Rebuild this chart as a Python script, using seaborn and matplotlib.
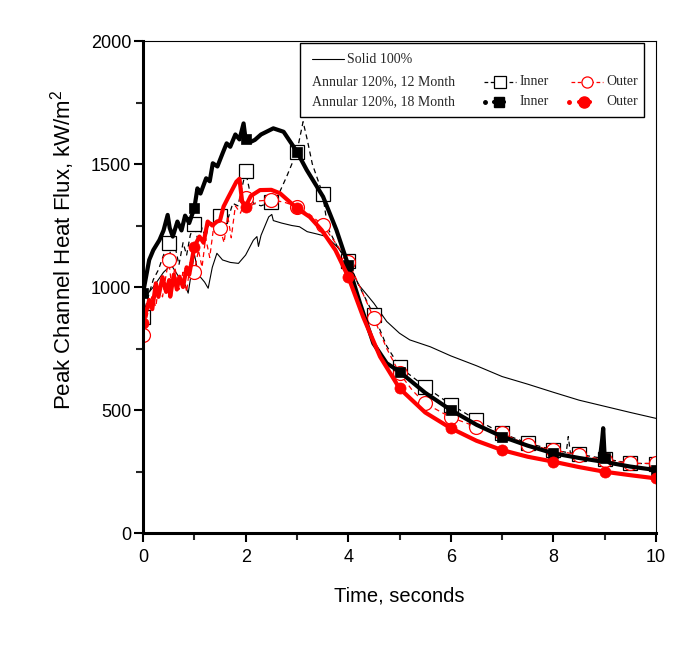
import numpy as np
import matplotlib
matplotlib.use("Agg")
import matplotlib.pyplot as plt
import seaborn as sns
from matplotlib.ticker import MultipleLocator
from matplotlib.patches import Rectangle

# Solid 100% (thin black line, no markers)
solid_t = [0, 0.2, 0.4, 0.55, 0.7, 0.8, 0.88, 1.0, 1.08, 1.2, 1.27, 1.35, 1.44, 1.55,
           1.7, 1.86, 2.0, 2.15, 2.22, 2.25, 2.3, 2.45, 2.51, 2.54, 2.7, 2.9, 3.05,
           3.2, 3.4, 3.58, 3.8, 4.0, 4.2, 4.5, 4.75, 5.0, 5.2, 5.6, 6.0, 6.5, 7.0,
           7.5, 8.0, 8.5, 9.0, 9.5, 10.0]
solid_v = [950, 1000, 1060, 1090, 1040, 1020, 975, 1135, 1050, 1020, 995, 1080, 1137, 1110,
           1100, 1096, 1130, 1190, 1205, 1165, 1210, 1285, 1295, 1270, 1260, 1250, 1245,
           1225, 1215, 1205, 1160, 1100, 1010, 934, 860, 812, 785, 757, 720, 680, 636,
           605, 572, 540, 515, 490, 466]

# Annular 120% 12 Month - Inner (thin black dashed, open squares every 0.5 s)
in12_t = [0, 0.1, 0.2, 0.3, 0.4, 0.5, 0.55, 0.62, 0.7, 0.78, 0.85, 0.92, 1.0, 1.08,
          1.15, 1.22, 1.3, 1.38, 1.5, 1.58, 1.66, 1.75, 1.85, 2.0, 2.08, 2.15, 2.3,
          2.5, 2.65, 2.8, 3.0, 3.12, 3.2, 3.3, 3.5, 3.6, 3.8, 4.0, 4.2, 4.5, 4.75,
          5.0, 5.5, 6.0, 6.5, 7.0, 7.5, 8.0, 8.25, 8.29, 8.33, 8.5, 9.0, 9.5, 10.0]
in12_v = [880, 960, 1030, 1070, 1130, 1180, 1110, 1170, 1090, 1180, 1130, 1210, 1255, 1180,
          1240, 1200, 1270, 1250, 1290, 1300, 1280, 1340, 1330, 1470, 1390, 1340, 1330,
          1345, 1380, 1449, 1550, 1672, 1600, 1500, 1380, 1240, 1160, 1105, 1010, 885, 760,
          675, 595, 522, 460, 405, 365, 338, 328, 392, 326, 320, 302, 283, 282]

# Annular 120% 12 Month - Outer (thin red dashed, open circles every 0.5 s)
out12_t = [0, 0.1, 0.17, 0.25, 0.3, 0.38, 0.45, 0.5, 0.56, 0.62, 0.7, 0.78, 0.85, 0.92,
           1.0, 1.08, 1.15, 1.22, 1.3, 1.38, 1.5, 1.58, 1.65, 1.72, 1.8, 1.9, 2.0, 2.1,
           2.25, 2.5, 2.75, 3.0, 3.25, 3.5, 3.75, 4.0, 4.25, 4.5, 4.75, 5.0, 5.25, 5.5,
           6.0, 6.5, 7.0, 7.5, 8.0, 8.5, 9.0, 9.5, 10.0]
out12_v = [805, 900, 960, 920, 1000, 960, 1050, 1110, 1000, 1080, 990, 1060, 980, 1100,
           1062, 1150, 1080, 1200, 1120, 1250, 1239, 1180, 1290, 1200, 1330, 1300, 1360, 1330,
           1350, 1354, 1345, 1327, 1295, 1252, 1180, 1103, 990, 873, 750, 649, 580, 527,
           470, 432, 405, 358, 337, 317, 297, 283, 283]

# Annular 120% 18 Month - Inner (thick black, filled squares every 1 s)
in18_t = [0, 0.12, 0.2, 0.32, 0.4, 0.48, 0.52, 0.58, 0.67, 0.75, 0.82, 0.9, 1.0, 1.06,
          1.12, 1.23, 1.3, 1.36, 1.45, 1.55, 1.63, 1.7, 1.8, 1.88, 1.96, 2.0, 2.1, 2.18,
          2.3, 2.54, 2.74, 3.0, 3.19, 3.51, 3.77, 4.0, 4.23, 4.49, 4.75, 5.0, 5.5, 6.0,
          6.5, 7.0, 7.5, 8.0, 8.5, 8.9, 8.95, 8.97, 9.0, 9.1, 9.5, 10.0]
in18_v = [975, 1110, 1150, 1191, 1230, 1293, 1240, 1205, 1266, 1230, 1290, 1260, 1320, 1401,
          1380, 1442, 1430, 1503, 1490, 1543, 1584, 1570, 1620, 1600, 1665, 1600, 1590, 1598,
          1620, 1645, 1631, 1550, 1476, 1367, 1232, 1089, 934, 771, 690, 656, 570, 500,
          440, 392, 355, 324, 305, 292, 380, 426, 305, 285, 270, 256]

# Annular 120% 18 Month - Outer (thick red, filled circles every 1 s)
out18_t = [0, 0.12, 0.18, 0.25, 0.3, 0.38, 0.45, 0.51, 0.53, 0.6, 0.66, 0.71, 0.78, 0.85,
           0.9, 1.0, 1.1, 1.18, 1.26, 1.35, 1.44, 1.5, 1.57, 1.65, 1.75, 1.82, 1.88, 1.93,
           2.0, 2.1, 2.28, 2.5, 2.67, 3.0, 3.25, 3.48, 3.75, 4.0, 4.29, 4.62, 5.0, 5.5,
           6.0, 6.5, 7.0, 7.5, 8.0, 8.5, 9.0, 9.5, 10.0]
out18_v = [852, 947, 910, 1015, 960, 1040, 980, 1028, 961, 1050, 990, 1042, 1000, 1080,
           1050, 1164, 1205, 1180, 1266, 1250, 1266, 1270, 1327, 1360, 1400, 1428, 1440, 1350,
           1327, 1370, 1394, 1395, 1381, 1320, 1285, 1232, 1150, 1042, 879, 717, 588, 490,
           426, 375, 337, 310, 290, 268, 249, 235, 222]


def marks_at(t, step):
    # indices of samples that fall on the marker interval
    t = np.asarray(t)
    return [i for i, v in enumerate(t) if abs(v / step - round(v / step)) < 1e-6]


sns.set_theme(style="ticks")
plt.rcParams["font.family"] = ["Liberation Sans", "DejaVu Sans"]
plt.rcParams["mathtext.fontset"] = "custom"
plt.rcParams["mathtext.rm"] = "Liberation Sans"
plt.rcParams["mathtext.it"] = "Liberation Sans"

fig = plt.figure(figsize=(6.86, 6.52), dpi=100)
ax = fig.add_axes([0.2085, 0.1825, 0.7478, 0.7546])

RED = "#ff0000"

sns.lineplot(x=solid_t, y=solid_v, ax=ax, color="black", linewidth=0.8,
             estimator=None, sort=False)
sns.lineplot(x=in12_t, y=in12_v, ax=ax, color="black", linewidth=0.9,
             linestyle=(0, (4, 3)), marker="s", markersize=10,
             markerfacecolor="white", markeredgecolor="black", markeredgewidth=0.9,
             markevery=marks_at(in12_t, 0.5), estimator=None, sort=False)
sns.lineplot(x=out12_t, y=out12_v, ax=ax, color=RED, linewidth=0.9,
             linestyle=(0, (4, 3)), marker="o", markersize=10,
             markerfacecolor="white", markeredgecolor=RED, markeredgewidth=0.9,
             markevery=marks_at(out12_t, 0.5), estimator=None, sort=False)
sns.lineplot(x=in18_t, y=in18_v, ax=ax, color="black", linewidth=3,
             marker="s", markersize=7, markerfacecolor="black",
             markeredgecolor="black", markeredgewidth=0.5,
             markevery=marks_at(in18_t, 1.0), estimator=None, sort=False)
sns.lineplot(x=out18_t, y=out18_v, ax=ax, color=RED, linewidth=3,
             marker="o", markersize=8, markerfacecolor=RED,
             markeredgecolor=RED, markeredgewidth=0.5,
             markevery=marks_at(out18_t, 1.0), estimator=None, sort=False)

ax.set_xlim(0, 10)
ax.set_ylim(0, 2000)
ax.xaxis.set_major_locator(MultipleLocator(2))
ax.xaxis.set_minor_locator(MultipleLocator(1))
ax.yaxis.set_major_locator(MultipleLocator(500))
ax.yaxis.set_minor_locator(MultipleLocator(250))
ax.tick_params(which="major", direction="out", length=6.5, width=1.5,
               labelsize=13, colors="black", top=False, right=False)
ax.tick_params(axis="x", which="major", pad=5)
ax.tick_params(axis="y", which="major", pad=2)
ax.tick_params(which="minor", direction="out", length=5, width=1.5,
               top=False, right=False)

for side in ["left", "bottom"]:
    ax.spines[side].set_linewidth(2.2)
for side in ["top", "right"]:
    ax.spines[side].set_linewidth(0.8)
for s in ax.spines.values():
    s.set_color("black")

ax.set_xlabel("Time, seconds", fontsize=14.5, color="black", labelpad=15)
ax.set_ylabel("Peak Channel Heat Flux, kW/m$^2$", fontsize=16, color="black")
ax.yaxis.set_label_coords(-0.128, 0.575)

# hand-built legend box in axes fraction
tr = ax.transAxes
ax.add_patch(Rectangle((0.306, 0.846), 0.671, 0.150, transform=tr,
                       facecolor="white", edgecolor="black", linewidth=1.0,
                       zorder=10))
lfont = dict(family="Liberation Serif", fontsize=10, va="center",
             transform=tr, zorder=11)
r1, r2, r3 = 0.963, 0.917, 0.877
ax.plot([0.329, 0.392], [r1, r1], color="black", lw=0.8, transform=tr, zorder=11)
ax.text(0.398, r1, "Solid 100%", **lfont)
ax.text(0.329, r2, "Annular 120%, 12 Month", **lfont)
ax.text(0.329, r3, "Annular 120%, 18 Month", **lfont)

ax.plot([0.665, 0.727], [r2, r2], color="black", lw=0.9, ls=(0, (3, 2)),
        transform=tr, zorder=11)
ax.plot([0.696], [r2], marker="s", ms=8, mfc="white", mec="black", mew=0.9,
        transform=tr, zorder=12)
ax.text(0.733, r2, "Inner", **lfont)
ax.plot([0.834, 0.897], [r2, r2], color=RED, lw=0.9, ls=(0, (3, 2)),
        transform=tr, zorder=11)
ax.plot([0.865], [r2], marker="o", ms=8, mfc="white", mec=RED, mew=0.9,
        transform=tr, zorder=12)
ax.text(0.904, r2, "Outer", **lfont)

ax.plot([0.667], [r3], marker="o", ms=2.5, color="black", transform=tr, zorder=12)
ax.plot([0.694], [r3], marker="s", ms=7, color="black", transform=tr, zorder=12)
ax.plot([0.684, 0.704], [r3, r3], color="black", lw=3, transform=tr, zorder=11)
ax.text(0.733, r3, "Inner", **lfont)
ax.plot([0.831], [r3], marker="o", ms=2.5, color=RED, transform=tr, zorder=12)
ax.plot([0.860], [r3], marker="o", ms=8, color=RED, transform=tr, zorder=12)
ax.plot([0.849, 0.871], [r3, r3], color=RED, lw=3, transform=tr, zorder=11)
ax.text(0.904, r3, "Outer", **lfont)

fig.savefig("out.png", dpi=100)
